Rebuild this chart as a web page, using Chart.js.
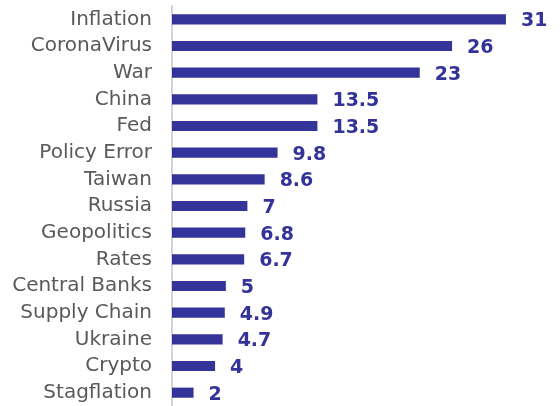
<!DOCTYPE html>
<html>
<head>
<meta charset="utf-8">
<script src="https://cdn.jsdelivr.net/npm/chart.js@4"></script>
<style>
  html, body { margin: 0; padding: 0; background: #fff; overflow: hidden; }
  canvas { display: block; }
</style>
</head>
<body>
<canvas id="riskChart" width="560" height="406"></canvas>
<script>
const categories = ["Inflation", "CoronaVirus", "War", "China", "Fed", "Policy Error", "Taiwan", "Russia",
    "Geopolitics", "Rates", "Central Banks", "Supply Chain", "Ukraine", "Crypto", "Stagflation"];
const values = [31, 26, 23, 13.5, 13.5, 9.8, 8.6, 7, 6.8, 6.7, 5, 4.9, 4.7, 4, 2];

const barColor = "#333399";
const labelFont = "DejaVu Sans, sans-serif";

// draws the number right of each bar
const valueLabels = {
    id: "valueLabels",
    afterDatasetsDraw(chart) {
        const ctx = chart.ctx;
        const meta = chart.getDatasetMeta(0);
        ctx.save();
        ctx.fillStyle = barColor;
        ctx.font = "bold 19px " + labelFont;
        ctx.textAlign = "left";
        ctx.textBaseline = "middle";
        meta.data.forEach((bar, i) => {
            ctx.fillText(String(values[i]), bar.x + 15, bar.y + 2);
        });
        ctx.restore();
    }
};

new Chart(document.getElementById("riskChart"), {
    type: "bar",
    data: {
        labels: categories,
        datasets: [{
            data: values,
            backgroundColor: barColor,
            categoryPercentage: 1,
            barPercentage: 0.38
        }]
    },
    options: {
        indexAxis: "y",
        responsive: false,
        animation: false,
        layout: { padding: { top: 6, right: 11, bottom: 0, left: 0 } },
        plugins: { legend: { display: false }, tooltip: { enabled: false } },
        scales: {
            x: {
                min: 0,
                max: 35,
                display: false
            },
            y: {
                grid: { display: false, drawTicks: false },
                border: { color: "#d4d4d4", width: 2 },
                ticks: {
                    color: "#595959",
                    font: { family: labelFont, size: 20 },
                    padding: 20,
                    autoSkip: false
                },
                afterFit(scale) {
                    scale.width = 172;
                    scale.paddingTop = 0;
                    scale.paddingBottom = 0;
                }
            }
        }
    },
    plugins: [valueLabels]
});
</script>
</body>
</html>
